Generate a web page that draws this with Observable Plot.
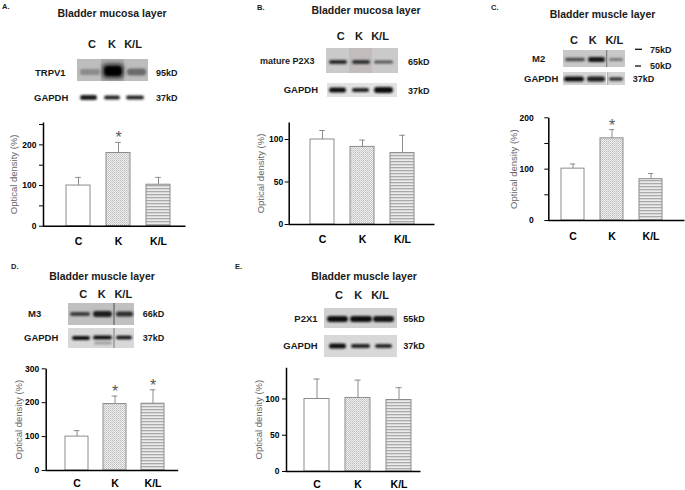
<!DOCTYPE html>
<html><head><meta charset="utf-8">
<script src="https://cdn.jsdelivr.net/npm/d3@7"></script>
<script src="https://cdn.jsdelivr.net/npm/@observablehq/plot@0.6"></script>
<style>
html,body{margin:0;padding:0;background:#fff;}
#fig{position:relative;width:685px;height:490px;overflow:hidden;font-family:"Liberation Sans",Arial,sans-serif;}
#fig svg.plotc{position:absolute;}
#overlay{position:absolute;left:0;top:0;pointer-events:none;}
</style></head><body>
<svg width="0" height="0" style="position:absolute">
<defs>
<pattern id="pDots" width="2" height="2" patternUnits="userSpaceOnUse">
<rect width="2" height="2" fill="#eeeeee"/>
<rect x="0" y="0" width="1" height="1" fill="#bdbdbd"/>
<rect x="1" y="1" width="1" height="1" fill="#d0d0d0"/>
</pattern>
<pattern id="pStripes" width="3" height="3" patternUnits="userSpaceOnUse">
<rect width="3" height="3" fill="#ebebeb"/>
<rect y="0" width="3" height="1.3" fill="#aaaaaa"/>
</pattern>
</defs></svg>
<div id="fig"></div>
<script>
// ---- data ----
const groups = ["C", "K", "K/L"];
const meanA = [100, 180, 102], errA = [20, 26, 18], sigA = [false, true, false];
const meanB = [100, 91.3, 84], errB = [10.6, 8, 21], sigB = [false, false, false];
const meanC = [101, 160, 80.5], errC = [9, 17, 11], sigC = [false, true, false];
const meanD = [100, 196, 197], errD = [17.6, 23.6, 41], sigD = [false, true, true];
const meanE = [100, 101.4, 98.6], errE = [27.5, 24.6, 17], sigE = [false, false, false];
const ticksA = [0, 100, 200], minorA = [50, 150, 250];
const ticksB = [0, 50, 100], minorB = [];
const ticksC = [0, 100, 200], minorC = [50, 150];
const ticksD = [0, 100, 200, 300], minorD = [];
const ticksE = [0, 50, 100], minorE = [];
const yLabel = "Optical density (%)";

const pat = {"C": "#ffffff", "K": "url(#pDots)", "K/L": "url(#pStripes)"};
const fig = document.getElementById("fig");
const FONT = "Liberation Sans, Arial, sans-serif";

function chart(cfg) {
  const data = groups.map((g, i) => ({g, m: cfg.mean[i], e: cfg.err[i], sig: cfg.sig[i]}));
  const fw = cfg.w - cfg.ml - cfg.mr, fh = cfg.h - cfg.mt - cfg.mb;
  const step = (cfg.range[1] - cfg.range[0]) / 3;
  const bw = step * 0.6;
  const inset = (bw - 6) / 2;
  const p = Plot.plot({
    width: cfg.w, height: cfg.h,
    marginLeft: cfg.ml, marginRight: cfg.mr, marginTop: cfg.mt, marginBottom: cfg.mb,
    style: {fontFamily: FONT, background: "transparent", overflow: "visible"},
    x: {domain: groups, range: cfg.range, paddingInner: 0.4, paddingOuter: 0.2, axis: null, label: null},
    y: {domain: cfg.domain, axis: null, label: null},
    color: {type: "identity"},
    marks: [
      Plot.barY(data, {x: "g", y: "m", fill: d => pat[d.g], stroke: "#8c8c8c", strokeWidth: 1}),
      Plot.ruleX(data, {x: "g", y1: "m", y2: d => d.m + d.e, stroke: "#8c8c8c", strokeWidth: 1}),
      Plot.tickY(data, {x: "g", y: d => d.m + d.e, stroke: "#8c8c8c", strokeWidth: 1, insetLeft: inset, insetRight: inset}),
      Plot.text(data.filter(d => d.sig), {x: "g", y: d => d.m + d.e, text: () => "*", fontSize: 16, fill: "#555", lineAnchor: "bottom", dy: 1}),
      Plot.frame({stroke: "#000", strokeWidth: 1.5, strokeDasharray: `0,${fw + fh},${fw + fh}`}),
      Plot.axisY({ticks: cfg.minor.length ? cfg.minor : [0], tickSize: cfg.minor.length ? 4 : 0, tickFormat: () => "", stroke: "#000", label: null}),
      Plot.axisY({ticks: cfg.ticks, tickSize: 4, tickPadding: cfg.tp, fontSize: 8.5, fontWeight: "bold", fill: "#000", stroke: "#000", label: null}),
      Plot.axisX({tickSize: 0, tickPadding: cfg.xp, fontSize: 10.5, fontWeight: "bold", fill: "#000", label: null}),
      Plot.axisY({ticks: [], tickSize: 0, label: yLabel, labelAnchor: "center", labelOffset: cfg.lo, labelArrow: "none", fill: "#666", fontSize: 9.5})
    ]
  });
  p.classList.add("plotc");
  p.style.left = cfg.left + "px";
  p.style.top = cfg.top + "px";
  fig.appendChild(p);
}

chart({mean: meanA, err: errA, sig: sigA, ticks: ticksA, minor: minorA, left: 0, top: 110, w: 195, h: 145, ml: 43, mr: 10, mt: 12, mb: 29.3, domain: [0, 255], range: [56.75, 178.25], lo: 33, tp: 3, xp: 11.5});
chart({mean: meanB, err: errB, sig: sigB, ticks: ticksB, minor: minorB, left: 245, top: 110, w: 195, h: 145, ml: 43.7, mr: 6, mt: 12, mb: 31, domain: [0, 120], range: [56, 178], lo: 31.7, tp: 2, xp: 11.5});
chart({mean: meanC, err: errC, sig: sigC, ticks: ticksC, minor: minorC, left: 500, top: 105, w: 185, h: 145, ml: 48.3, mr: 1, mt: 12.3, mb: 30, domain: [0, 200], range: [52.45, 171.55], lo: 38.3, tp: 11, xp: 12.5});
chart({mean: meanD, err: errD, sig: sigD, ticks: ticksD, minor: minorD, left: 0, top: 358, w: 190, h: 132, ml: 45.7, mr: 12.3, mt: 10.3, mb: 20, domain: [0, 300], range: [56.4, 172.7], lo: 30.7, tp: 3, xp: 9.5});
chart({mean: meanE, err: errE, sig: sigE, ticks: ticksE, minor: minorE, left: 240, top: 357, w: 190, h: 133, ml: 46, mr: 10, mt: 10.3, mb: 19, domain: [0, 143], range: [55, 179.5], lo: 31.5, tp: 3, xp: 9.5});

// ---- blots and panel text ----
const ov = d3.select("#fig").append("svg").attr("id", "overlay").attr("width", 685).attr("height", 490)
  .style("font-family", FONT);
const defs = ov.append("defs");
defs.append("filter").attr("id", "bb").attr("x", "-50%").attr("y", "-150%").attr("width", "200%").attr("height", "400%")
  .append("feGaussianBlur").attr("stdDeviation", 0.9);
defs.append("filter").attr("id", "bbig").attr("x", "-50%").attr("y", "-50%").attr("width", "200%").attr("height", "200%")
  .append("feGaussianBlur").attr("stdDeviation", 2.2);
defs.append("filter").attr("id", "bx").attr("x", "-10%").attr("y", "-20%").attr("width", "120%").attr("height", "140%")
  .append("feGaussianBlur").attr("stdDeviation", 0.5);

function box(x1, y1, x2, y2, fill) {
  ov.append("rect").attr("x", x1).attr("y", y1).attr("width", x2 - x1).attr("height", y2 - y1).attr("fill", fill).attr("filter", "url(#bx)");
}
function band(x1, x2, cy, h, fill, f = "bb") {
  ov.append("rect").attr("x", x1).attr("y", cy - h / 2).attr("width", x2 - x1).attr("height", h).attr("rx", Math.min(h / 2, 3)).attr("fill", fill).attr("filter", `url(#${f})`);
}
function vline(x, y1, y2, c, w) {
  ov.append("line").attr("x1", x).attr("x2", x).attr("y1", y1).attr("y2", y2).attr("stroke", c).attr("stroke-width", w);
}
function hline(x1, x2, y, c, w) {
  ov.append("line").attr("x1", x1).attr("x2", x2).attr("y1", y).attr("y2", y).attr("stroke", c).attr("stroke-width", w);
}
function txt(x, y, s, size, weight = "bold", anchor = "start", fill = "#1a1a1a") {
  ov.append("text").attr("x", x).attr("y", y).attr("font-size", size).attr("font-weight", weight)
    .attr("text-anchor", anchor).attr("fill", fill).text(s);
}
function lanes(xs, y) { groups.forEach((g, i) => txt(xs[i], y, g, 11, "bold", "middle")); }

// Panel letters and titles
txt(2, 8.5, "A.", 7.5); txt(257, 9.5, "B.", 7.5); txt(491, 9.5, "C.", 7.5); txt(11, 268.5, "D.", 7.5); txt(235, 268.5, "E.", 7.5);
txt(112, 17, "Bladder mucosa layer", 10.5, "bold", "middle");
txt(366, 13.5, "Bladder mucosa layer", 10.5, "bold", "middle");
txt(602.5, 18, "Bladder muscle layer", 10.5, "bold", "middle");
txt(102, 279.5, "Bladder muscle layer", 10.5, "bold", "middle");
txt(364, 279.5, "Bladder muscle layer", 10.5, "bold", "middle");

// A
lanes([92, 112, 133], 47.5);
box(77, 59, 148, 81, "#bdbdbd");
box(101, 59, 124, 81, "#a9a9a9");
band(80, 100, 72, 6, "#8a8a8a");
band(103, 123, 71, 13, "#111", "bbig");
band(105, 121, 71, 8, "#000");
band(127, 146, 72, 7, "#6a6a6a");
band(80, 97, 97.5, 5, "#1a1a1a");
band(104, 120, 97.5, 4, "#262626");
band(126, 144, 97.5, 4, "#262626");
txt(35, 75.5, "TRPV1", 9.5); txt(34, 100.5, "GAPDH", 9.5);
txt(156, 75.5, "95kD", 9); txt(156, 100.5, "37kD", 9);

// B
lanes([340.7, 359, 380], 39.5);
box(326, 48, 398, 73, "#cacaca");
box(349, 48, 372, 73, "#c2bcbc");
band(329, 347, 62, 4, "#2a2a2a");
band(352, 370, 62, 4, "#333");
band(374, 393, 62, 3, "#555");
box(327, 83, 397, 97, "#e2e2e2");
band(329, 346, 90, 5, "#111");
band(352, 369, 90, 4, "#222");
band(374, 393, 90, 6, "#111");
txt(260, 64, "mature P2X3", 9, "600"); txt(283.7, 93.3, "GAPDH", 9.5);
txt(408, 65, "65kD", 9); txt(408, 94, "37kD", 9);

// C
lanes([574, 592.7, 614.3], 44);
box(563, 50, 625, 67, "#c8c8c8");
band(565, 585, 59.5, 3.5, "#4a4a4a");
band(588, 605, 59.5, 5, "#151515");
band(609, 623, 59.5, 3, "#777");
vline(606.7, 50, 67, "#666", 0.9);
box(563, 72, 625, 85, "#d4d4d4");
band(564, 584, 79, 5, "#111");
band(587, 605, 79, 5, "#1a1a1a");
band(609, 623, 79, 3.5, "#333");
vline(606.7, 72, 85, "#f5f5f5", 1.2);
vline(607.6, 72, 85, "#888", 0.6);
txt(532, 62.3, "M2", 9.5); txt(524, 82.3, "GAPDH", 9.5);
hline(635, 642, 49.3, "#111", 1.3); txt(650, 52.7, "75kD", 9);
hline(635, 641, 66, "#111", 1.3); txt(650, 68.5, "50kD", 9);
txt(632.7, 82.3, "37kD", 9);

// D
lanes([83.3, 101.7, 123.3], 298);
box(68, 303, 134, 325, "#c0c0c0");
band(70, 90, 314, 4, "#3a3a3a");
band(93, 112, 314, 6, "#1a1a1a");
band(116, 133, 314, 5, "#2a2a2a");
vline(114, 303, 325, "#444", 0.9);
box(68, 328, 134, 348, "#d8d8d8");
band(72, 90, 338, 4, "#111");
band(93, 112, 337.5, 4, "#111");
band(94, 112, 343, 3, "#a0a0a0");
band(116, 132, 337.5, 3.5, "#111");
vline(114, 328, 348, "#666", 0.8);
txt(28, 317, "M3", 9.5); txt(24, 341, "GAPDH", 9.5);
txt(142.7, 317, "66kD", 9); txt(142.7, 341, "37kD", 9);

// E
lanes([339, 358.3, 380], 299);
box(324, 308, 397, 328, "#d0d0d0");
band(327, 348, 319, 6, "#111");
band(350, 372, 319, 6, "#111");
band(373, 394, 319, 6, "#151515");
box(324, 335, 397, 357, "#d8d8d8");
band(329, 346, 346, 5, "#111");
band(351, 370, 346, 4, "#222");
band(375, 392, 346, 4, "#2a2a2a");
txt(294.3, 321.7, "P2X1", 9.5); txt(283.3, 349, "GAPDH", 9.5);
txt(403.3, 322, "55kD", 9); txt(403.3, 349, "37kD", 9);
</script>
</body></html>
